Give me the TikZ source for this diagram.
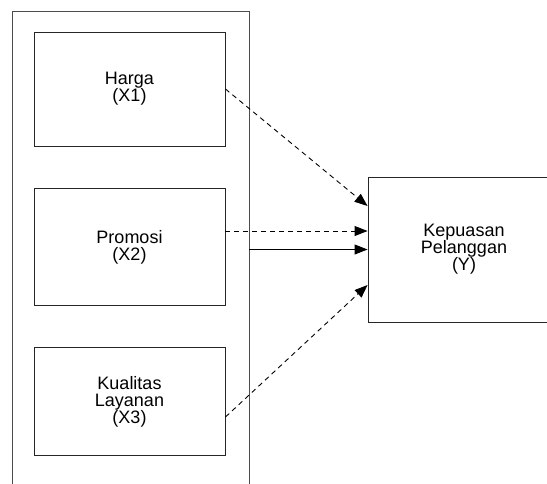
\documentclass[tikz,border=0pt]{standalone}
\usepackage{fontspec}
\setmainfont{Liberation Sans}
\usetikzlibrary{arrows.meta,calc}
\begin{document}
\begin{tikzpicture}[x=1pt,y=-1pt,
  box/.style={draw=black!85,line width=0.9pt,minimum width=191pt,inner sep=0pt,
    align=center,font=\fontsize{18}{17}\selectfont},
  frame/.style={draw=black!70,line width=1pt},
  link/.style={draw=black,line width=0.9pt,-{Triangle[length=13pt,width=10pt]}},
  dashlink/.style={link,dash pattern=on 5pt off 4pt}]
\useasboundingbox (0,0) rectangle (547,483);
\coordinate (fbl) at (12,485);
\coordinate (ftl) at (12,11);
\coordinate (ftr) at (249,11);
\coordinate (fbr) at (249,485);
\draw[frame] (fbl) -- (ftl) -- (ftr) -- (fbr);
\node[box,minimum height=114pt] (x1) at (129.5,89) {Harga\\(X1)};
\node[box,minimum height=117pt] (x2) at (129.5,247) {Promosi\\(X2)};
\node[box,minimum height=108pt] (x3) at (129.5,401.5) {Kualitas\\Layanan\\(X3)};
\node[box,minimum width=192pt,minimum height=145pt] (y) at (464,249.5) {Kepuasan\\Pelanggan\\(Y)};
\draw[dashlink] (x1.east) -- ([yshift=43.5pt]y.west);
\draw[dashlink] ([yshift=16pt]x2.east) -- ([yshift=16pt]x2.east -| y.west);
\draw[link] (y.west -| ftr) -- (y.west);
\draw[dashlink] ([yshift=-15.5pt]x3.east) -- ([yshift=-35.5pt]y.west);
\end{tikzpicture}
\end{document}
